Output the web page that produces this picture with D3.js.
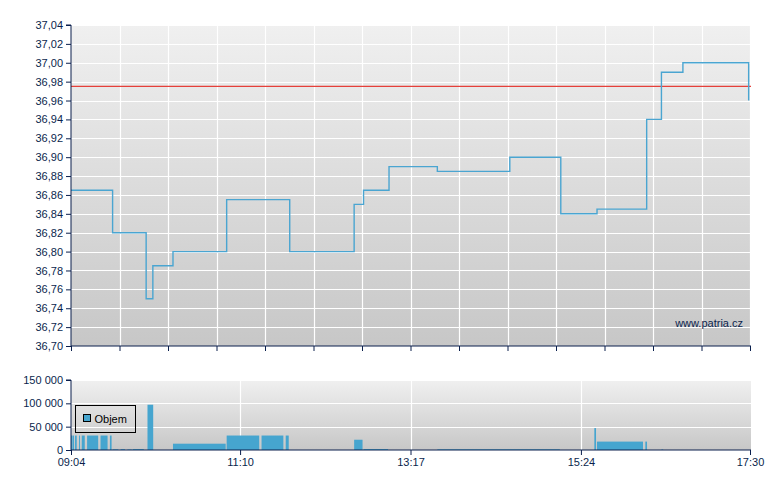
<!DOCTYPE html>
<html>
<head>
<meta charset="utf-8">
<script src="https://cdn.jsdelivr.net/npm/d3@7"></script>
<style>
  body { margin: 0; background: #fff; }
  svg { display: block; font-family: "Liberation Sans", Arial, sans-serif; }
  .axis path, .axis line { stroke: #0a1f4d; }
  .axis text { fill: #0a1f4d; font-size: 11px; }
</style>
</head>
<body>
<script>
// price trades (time, price), drawn as steps
var priceTimes = ["09:04","09:35","10:00","10:05","10:20","11:00","11:47","12:35","12:42","13:01","13:37","14:31","15:09","15:36","16:13","16:24","16:40","17:29"];
var priceValues = [36.865,36.82,36.75,36.785,36.80,36.855,36.80,36.85,36.865,36.89,36.885,36.90,36.84,36.845,36.94,36.99,37.00,36.96];

// previous close (red line)
var refPrice = 36.975;

// volume bars: start, end, volume
var volStart = ["09:04","09:05","09:07","09:10","09:12","09:16","09:26","09:33","09:35","09:41","09:46","09:50","10:01","10:20","11:00","11:26","11:44","12:35","12:42","13:37","15:34","15:36","16:12","16:24"];
var volEnd   = ["09:05","09:07","09:09","09:11","09:15","09:25","09:32","09:35","09:40","09:45","09:50","09:59","10:06","11:00","11:25","11:43","11:47","12:42","13:01","15:09","15:36","16:11","16:14","16:26"];
var volValues = [31000,31000,31000,31000,31000,31000,31000,31000,1500,1800,1200,2000,97000,13500,31000,31000,31000,22000,2000,1500,47000,18000,18000,1200];

var timeLabels = ["09:04","11:10","13:17","15:24","17:30"];
var priceTicks = [36.70,36.72,36.74,36.76,36.78,36.80,36.82,36.84,36.86,36.88,36.90,36.92,36.94,36.96,36.98,37.00,37.02,37.04];
var volTicks = [0,50000,100000,150000];

var width = 780, height = 490;
var left = 71, right = 750;
var mainTop = 25, mainBottom = 346;
var volTop = 380, volBottom = 450;

var parseT = d3.timeParse("%H:%M");
var locale = d3.formatLocale({decimal: ",", thousands: " ", grouping: [3], currency: ["", ""]});

var svg = d3.select("body").append("svg")
    .attr("width", width)
    .attr("height", height);

var defs = svg.append("defs");
var grad = defs.append("linearGradient")
    .attr("id", "bg")
    .attr("x1", 0).attr("y1", 0).attr("x2", 0).attr("y2", 1);
grad.append("stop").attr("offset", "0%").attr("stop-color", "#f0f0f0");
grad.append("stop").attr("offset", "100%").attr("stop-color", "#c7c7c7");

var x = d3.scaleTime()
    .domain([parseT("09:04"), parseT("17:30")])
    .range([left, right]);

var y = d3.scaleLinear()
    .domain([36.70, 37.04])
    .range([mainBottom, mainTop]);

var yv = d3.scaleLinear()
    .domain([0, 150000])
    .range([volBottom, volTop]);

// 14 equal intervals on the price chart
var dom = x.domain();
var gridTimes = d3.range(15).map(function (i) {
    return new Date(+dom[0] + i * (dom[1] - dom[0]) / 14);
});

// ---------- price panel ----------
svg.append("rect")
    .attr("x", left).attr("y", mainTop)
    .attr("width", right - left + 1).attr("height", mainBottom - mainTop)
    .attr("fill", "url(#bg)");

svg.append("g")
    .selectAll("line")
    .data(priceTicks)
    .enter().append("line")
    .attr("x1", left).attr("x2", right + 1)
    .attr("y1", function (d) { return Math.round(y(d)) + 0.5; })
    .attr("y2", function (d) { return Math.round(y(d)) + 0.5; })
    .attr("stroke", "#fff").attr("stroke-width", 1.2);

svg.append("g")
    .selectAll("line")
    .data(gridTimes.slice(1))
    .enter().append("line")
    .attr("x1", function (d) { return Math.round(x(d)) + 0.5; })
    .attr("x2", function (d) { return Math.round(x(d)) + 0.5; })
    .attr("y1", mainTop).attr("y2", mainBottom)
    .attr("stroke", "#fff").attr("stroke-width", 1.2);

svg.append("line")
    .attr("x1", left).attr("x2", right + 1)
    .attr("y1", y(refPrice)).attr("y2", y(refPrice))
    .attr("stroke", "#e5403a").attr("stroke-width", 1.2);

var priceData = priceTimes.map(function (t, i) {
    return {t: parseT(t), v: priceValues[i]};
});

var line = d3.line()
    .x(function (d) { return x(d.t); })
    .y(function (d) { return y(d.v); })
    .curve(d3.curveStepAfter);

svg.append("path")
    .datum(priceData)
    .attr("fill", "none")
    .attr("stroke", "#4aa5d1")
    .attr("stroke-width", 1.4)
    .attr("d", line);

svg.append("text")
    .attr("x", 743).attr("y", 327)
    .attr("text-anchor", "end")
    .attr("fill", "#0a1f4d")
    .style("font-size", "11px")
    .text("www.patria.cz");

svg.append("g")
    .attr("class", "axis")
    .attr("transform", "translate(" + left + ",0)")
    .call(d3.axisLeft(y)
        .tickValues(priceTicks)
        .tickSize(5)
        .tickPadding(3)
        .tickFormat(locale.format(".2f")))
    .call(function (g) { g.select(".domain").attr("d", "M-5," + mainTop + "H0V" + mainBottom); });

svg.append("g")
    .attr("class", "axis")
    .attr("transform", "translate(0," + mainBottom + ")")
    .call(d3.axisBottom(x)
        .tickValues(gridTimes)
        .tickSize(5)
        .tickFormat(""))
    .call(function (g) { g.select(".domain").attr("d", "M" + left + ",0H" + (right + 1)); });

// ---------- volume panel ----------
svg.append("rect")
    .attr("x", left).attr("y", volTop)
    .attr("width", right - left + 1).attr("height", volBottom - volTop)
    .attr("fill", "url(#bg)");

svg.append("g")
    .selectAll("line")
    .data(volTicks.slice(1))
    .enter().append("line")
    .attr("x1", left).attr("x2", right + 1)
    .attr("y1", function (d) { return Math.round(yv(d)) + 0.5; })
    .attr("y2", function (d) { return Math.round(yv(d)) + 0.5; })
    .attr("stroke", "#fff").attr("stroke-width", 1.2);

svg.append("g")
    .selectAll("line")
    .data(timeLabels.slice(1, -1))
    .enter().append("line")
    .attr("x1", function (d) { return Math.round(x(parseT(d))) + 0.5; })
    .attr("x2", function (d) { return Math.round(x(parseT(d))) + 0.5; })
    .attr("y1", volTop).attr("y2", volBottom)
    .attr("stroke", "#fff").attr("stroke-width", 1.2);

var volData = volValues.map(function (v, i) {
    return {t0: parseT(volStart[i]), t1: parseT(volEnd[i]), v: v};
});

svg.append("g")
    .selectAll("rect")
    .data(volData)
    .enter().append("rect")
    .attr("x", function (d) { return x(d.t0); })
    .attr("width", function (d) { return Math.max(1, x(d.t1) - x(d.t0) - 1); })
    .attr("y", function (d) { return yv(d.v); })
    .attr("height", function (d) { return volBottom - yv(d.v); })
    .attr("fill", "#46a5cf");

svg.append("g")
    .attr("class", "axis")
    .attr("transform", "translate(" + left + ",0)")
    .call(d3.axisLeft(yv)
        .tickValues(volTicks)
        .tickSize(5)
        .tickPadding(3)
        .tickFormat(locale.format(",d")))
    .call(function (g) { g.select(".domain").attr("d", "M-5," + volTop + "H0V" + volBottom); });

svg.append("g")
    .attr("class", "axis")
    .attr("transform", "translate(0," + volBottom + ")")
    .call(d3.axisBottom(x)
        .tickValues(timeLabels.map(parseT))
        .tickSize(5)
        .tickPadding(3)
        .tickFormat(d3.timeFormat("%H:%M")))
    .call(function (g) { g.select(".domain").attr("d", "M" + left + ",0H" + (right + 1)); });

// legend
var legend = svg.append("g").attr("transform", "translate(75.5,405.5)");
legend.append("rect")
    .attr("width", 60).attr("height", 27)
    .attr("fill", "none").attr("stroke", "#000");
legend.append("rect")
    .attr("x", 8).attr("y", 9)
    .attr("width", 7).attr("height", 7)
    .attr("fill", "#46a5cf").attr("stroke", "#000");
legend.append("text")
    .attr("x", 19).attr("y", 17)
    .attr("fill", "#000")
    .style("font-size", "11px")
    .text("Objem");
</script>
</body>
</html>
